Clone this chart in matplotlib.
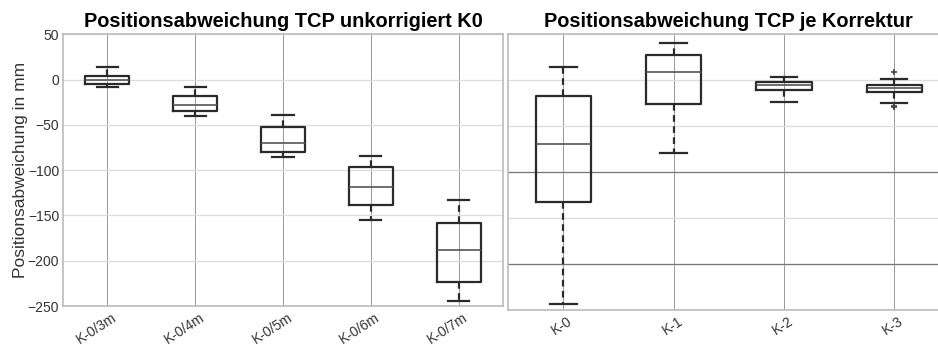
import numpy as np
import matplotlib
matplotlib.use('Agg')
import matplotlib.pyplot as plt
from matplotlib.transforms import ScaledTranslation

plt.rcParams['font.family'] = ['Liberation Sans', 'DejaVu Sans']

# Left panel: deviation per distance (uncorrected K0)
left_labels = ['K-0/3m', 'K-0/4m', 'K-0/5m', 'K-0/6m', 'K-0/7m']
left_whishi = [14, -8.5, -39, -84, -133]
left_q3 = [3.7, -18, -52.6, -96.4, -158]
left_med = [-0.7, -27.6, -69.6, -118.5, -187.7]
left_q1 = [-4.8, -35, -80, -139, -223.8]
left_whislo = [-7.7, -40.5, -85, -155, -244.8]

# Right panel: deviation per correction
right_labels = ['K-0', 'K-1', 'K-2', 'K-3']
right_whishi = [14.5, 40.3, 3.6, 1.1]
right_q3 = [-17.4, 27.6, -1.5, -4.7]
right_med = [-69.4, 9.1, -5.1, -8.0]
right_q1 = [-132.2, -25.8, -10.5, -13.1]
right_whislo = [-243.6, -78.8, -23.2, -24.7]
right_fliers = [[], [], [], [9.1, -28.0, -29.4]]


def make_stats(labels, whishi, q3, med, q1, whislo, fliers=None):
    stats = []
    for i, lab in enumerate(labels):
        stats.append({
            'label': lab, 'med': med[i], 'q1': q1[i], 'q3': q3[i],
            'whislo': whislo[i], 'whishi': whishi[i],
            'fliers': fliers[i] if fliers else [],
        })
    return stats


def style_axes(ax, stats, title):
    ax.bxp(stats, widths=0.5, showfliers=True, patch_artist=False,
           boxprops=dict(color='#2a2a2a', linewidth=1.6),
           medianprops=dict(color='#555555', linewidth=1.2),
           whiskerprops=dict(color='#2a2a2a', linewidth=1.6, linestyle=(0, (3, 2))),
           capprops=dict(color='#2a2a2a', linewidth=1.6),
           capwidths=0.24,
           flierprops=dict(marker='+', markersize=4, markeredgecolor='#444444',
                           markeredgewidth=1.2))
    ax.set_ylim(-250, 50)
    ax.set_yticks(np.arange(-250, 51, 50))
    ax.yaxis.grid(True, color='#dddddd', linewidth=0.9)
    ax.xaxis.grid(True, color='#999999', linewidth=0.7)
    ax.set_axisbelow(True)
    for s in ax.spines.values():
        s.set_color('#bbbbbb')
        s.set_linewidth(1.2)
    ax.tick_params(length=0, labelsize=10, labelcolor='#333333', pad=3)
    shift = ScaledTranslation(4 / 100, 0, fig.dpi_scale_trans)
    for t in ax.get_xticklabels():
        t.set_rotation(33)
        t.set_ha('right')
        t.set_rotation_mode('anchor')
        t.set_transform(t.get_transform() + shift)
    ax.set_title(title, fontsize=14.4, fontweight='bold', pad=5)


fig = plt.figure(figsize=(9.38, 3.45), dpi=100)
ax1 = fig.add_axes([0.0675, 0.113, 0.4685, 0.7876])
ax2 = fig.add_axes([0.5419, 0.102, 0.4702, 0.7983])

style_axes(ax1, make_stats(left_labels, left_whishi, left_q3, left_med,
                           left_q1, left_whislo),
           'Positionsabweichung TCP unkorrigiert K0')
ax1.set_xlim(0.5, 5.5)
ax1.set_ylabel('Positionsabweichung in mm', fontsize=12.5, color='#333333')
ax1.yaxis.set_label_coords(-0.08, 0.5)

style_axes(ax2, make_stats(right_labels, right_whishi, right_q3, right_med,
                           right_q1, right_whislo, right_fliers),
           'Positionsabweichung TCP je Korrektur')
ax2.set_xlim(0.5, 4.5)
ax2.set_yticklabels([])
for yv in (-100, -200):
    ax2.axhline(yv, color='#777777', linewidth=0.9, zorder=1)

fig.savefig('out.png', dpi=100)
